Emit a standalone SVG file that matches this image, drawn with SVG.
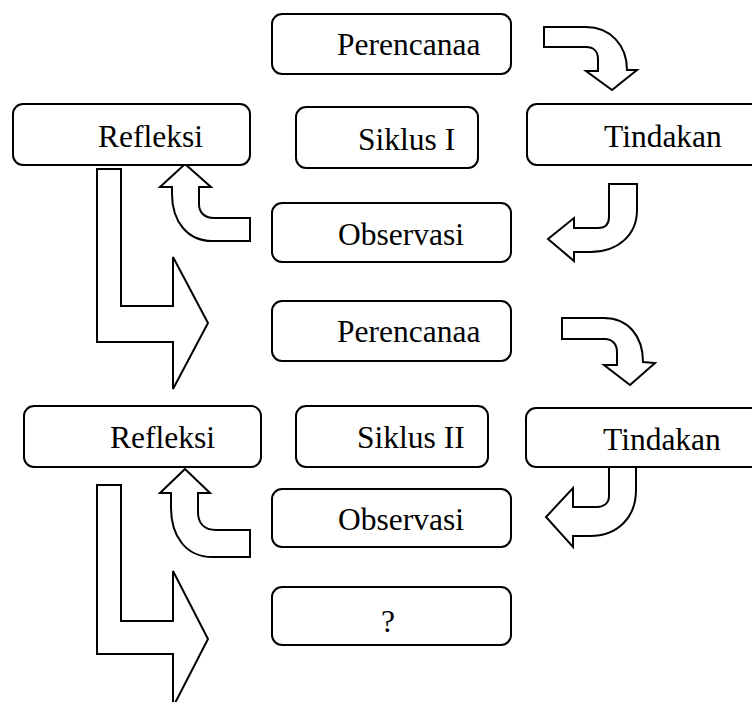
<svg xmlns="http://www.w3.org/2000/svg" width="752" height="702" viewBox="0 0 752 702">
<style>
.box{fill:#fff;stroke:#000;stroke-width:2}
.arr{fill:#fff;stroke:#000;stroke-width:2;stroke-linejoin:miter}
.t{font-family:"Liberation Serif","Times New Roman",serif;font-size:31.5px;fill:#000}
</style>
<rect width="752" height="702" fill="#fff"/>
<g id="connectors">
<path class="arr" d="M544,27 L586,27 C610,27 627,45 627,70 L637,70 L612,90 L586,71 L598,71 L598,59 C598,51 593,47 586,47 L544,47 Z"/>
<path class="arr" d="M562,318 L604,318 C628,318 643,336 643,362 L655,363 L630,385 L604,365 L617,365 L617,352 C617,344 612,339 605,339 L562,339 Z"/>
<path class="arr" d="M609,184 L637,184 L637,210 C637,235 618,252 590,252 L574,252 L574,261 L548,239 L574,218 L574,228 L598,228 C605,228 609,224 609,217 Z"/>
<path class="arr" d="M609,456 L636,456 L636,490 C636,518 617,536 590,536 L573,536 L573,547 L546,517 L573,488 L573,507 L597,507 C604,507 609,503 609,496 Z"/>
<path class="arr" d="M185,164 L211,187 L199,187 L199,204 C199,212 204,218 214,218 L250,218 L250,241 L212,241 C188,241 172,222 172,194 L172,187 L160,187 Z"/>
<path class="arr" d="M185,469 L210,493 L198,493 L198,512 C198,523 204,530 216,530 L250,530 L250,557 L212,557 C186,557 171,536 171,508 L171,493 L160,493 Z"/>
<path class="arr" d="M97,169 L121,169 L121,306 L173,306 L173,257 L208,323 L173,389 L173,342 L97,342 Z"/>
<path class="arr" d="M97,485 L121,485 L121,621 L173,621 L173,571 L208,639 L173,707 L173,654 L97,654 Z"/>
</g>
<g id="perencanaan1"><rect class="box" x="272" y="14" width="239" height="60" rx="10"/><text class="t" x="337" y="55">Perencanaa</text></g>
<g id="refleksi1"><rect class="box" x="13" y="104" width="237" height="61" rx="10"/><text class="t" x="98" y="147">Refleksi</text></g>
<g id="siklus1"><rect class="box" x="296" y="107" width="182" height="61" rx="10"/><text class="t" x="358" y="150">Siklus I</text></g>
<g id="tindakan1"><rect class="box" x="527" y="104" width="240" height="61" rx="10"/><text class="t" x="604" y="147">Tindakan</text></g>
<g id="observasi1"><rect class="box" x="272" y="203" width="239" height="59" rx="10"/><text class="t" x="338" y="245">Observasi</text></g>
<g id="perencanaan2"><rect class="box" x="272" y="301" width="239" height="60" rx="10"/><text class="t" x="337" y="342">Perencanaa</text></g>
<g id="refleksi2"><rect class="box" x="24" y="406" width="237" height="61" rx="10"/><text class="t" x="110" y="448">Refleksi</text></g>
<g id="siklus2"><rect class="box" x="296" y="406" width="192" height="61" rx="10"/><text class="t" x="357" y="448">Siklus II</text></g>
<g id="tindakan2"><rect class="box" x="526" y="408" width="240" height="59" rx="10"/><text class="t" x="603" y="450">Tindakan</text></g>
<g id="observasi2"><rect class="box" x="272" y="489" width="239" height="58" rx="10"/><text class="t" x="338" y="530">Observasi</text></g>
<g id="next"><rect class="box" x="272" y="587" width="239" height="58" rx="10"/><text class="t" x="381" y="632">?</text></g>
</svg>
